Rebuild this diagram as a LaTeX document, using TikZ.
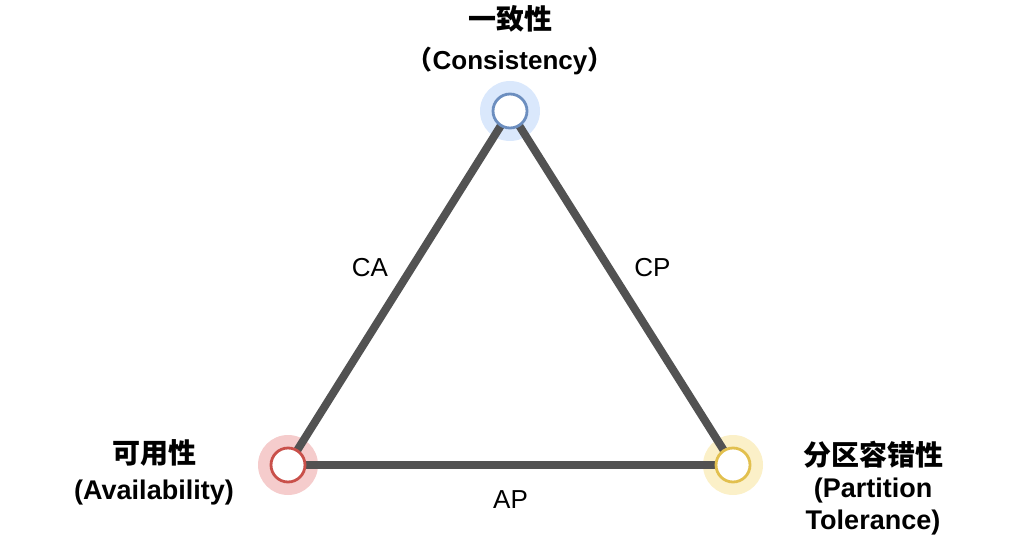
\documentclass[tikz,border=0pt]{standalone}
\usepackage{fontspec}
\setmainfont{Liberation Sans}
\newfontfamily\cjk{Noto Sans CJK SC}
\usetikzlibrary{positioning, backgrounds}
\definecolor{cline}{HTML}{525252}
\definecolor{cblue}{HTML}{6C8EBF}
\definecolor{cbluefill}{HTML}{DAE8FC}
\definecolor{cred}{HTML}{C9504A}
\definecolor{credfill}{HTML}{F5CCCC}
\definecolor{cyel}{HTML}{E2C04E}
\definecolor{cyelfill}{HTML}{FBF0C8}
\newcommand{\zh}[1]{{\cjk\fontsize{28}{28}\selectfont #1}}

\begin{document}
\begin{tikzpicture}[x=1pt, y=-1pt,
      vert/.style={circle, draw, line width=2.8pt, fill=white,
                   minimum size=34pt, inner sep=0pt},
      edge/.style={draw=cline, line width=8pt},
      lbl/.style={align=center, font=\fontsize{27}{36}\selectfont\bfseries},
      elbl/.style={font=\fontsize{26}{30}\selectfont}
    ]
    \useasboundingbox (0,0) rectangle (1024,559);
    % the three corners
    \node[vert, draw=cblue] (c) at (510,111) {};
    \node[vert, draw=cred]  (a) at (288,465) {};
    \node[vert, draw=cyel]  (p) at (733,465) {};
    % titles
    \node[lbl, font=\fontsize{26}{36}\selectfont\bfseries] (ct) at (510,40)
      {\zh{一致性}\\[4pt]{\cjk （}Consistency{\cjk ）}};
    \node[lbl] (at) at (154,472) {\zh{可用性}\\(Availability)};
    \node[lbl, font=\fontsize{27}{32}\selectfont\bfseries] (pt) at (873,488)
      {\zh{分区容错性}\\(Partition\\Tolerance)};
    \begin{scope}[on background layer]
      \fill[cbluefill] (c) circle (30);
      \fill[credfill]  (a) circle (30);
      \fill[cyelfill]  (p) circle (30);
      \draw[edge] (c.center) -- node[elbl, xshift=-29pt, yshift=20pt] (ca) {CA} (a.center);
      \draw[edge] (c.center) -- node[elbl, xshift=31pt, yshift=20pt] (cp) {CP} (p.center);
      \draw[edge] (a.center) -- node[elbl, yshift=-35pt] (ap) {AP} (p.center);
    \end{scope}
  \end{tikzpicture}
\end{document}
